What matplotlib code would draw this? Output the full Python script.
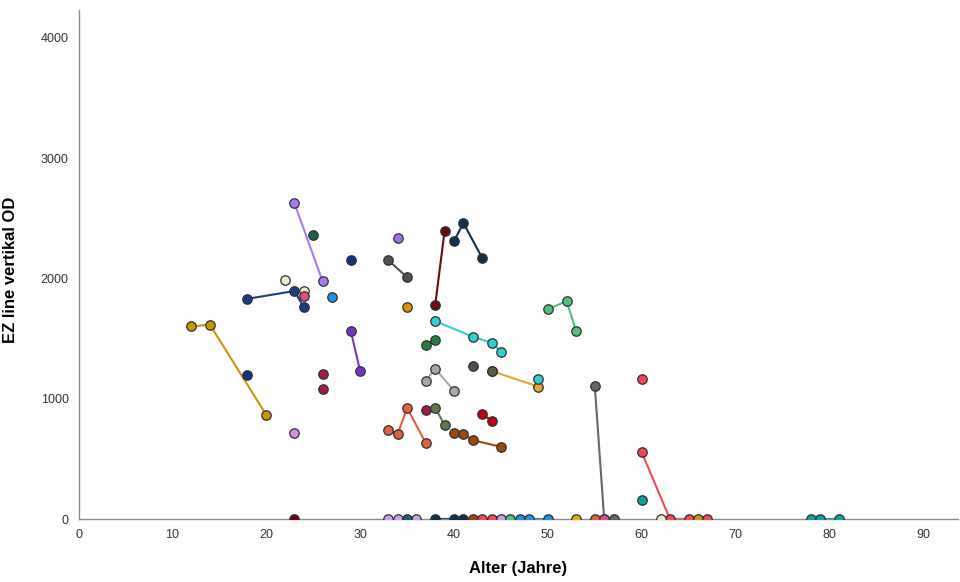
import matplotlib
matplotlib.use("Agg")
import matplotlib.pyplot as plt
import numpy as np

plt.rcParams['font.family'] = ['Liberation Sans', 'DejaVu Sans']

# Subject colours (one per subject)
subject_colors = [
    "#c8960c", "#1a3a8a", "#f0ead0", "#e05080", "#a87af5", "#1a6050", "#10308a",
    "#2090e0", "#7535c8", "#a01850", "#a01850", "#10308a", "#d090e8", "#700010",
    "#a070f0", "#505050", "#e0900a", "#6a0a10", "#10304e", "#30d0d0", "#208040",
    "#505050", "#f0a030", "#506040", "#30d0d0", "#a8a8a8", "#e06040", "#a01850",
    "#607850", "#c00010", "#a04808", "#50c080", "#606868", "#f04858", "#f04858",
    "#10a0a0", "#c8a0e8", "#206060", "#10304e", "#10304e", "#b04010", "#f04858",
    "#c8a0e8", "#50c080", "#2090e0", "#e0b010", "#e06040", "#e05090", "#606868",
    "#f0ead0", "#d09010", "#f04858", "#10a0a0",
]

# Long-format data: subject index, age (years), EZ line value
subject = [
    0, 0, 0,
    1, 1, 1,
    2, 2,
    3,
    4, 4,
    5,
    6,
    7,
    8, 8,
    9,
    10,
    11,
    12,
    13,
    14,
    15, 15,
    16,
    17, 17,
    18, 18, 18,
    19, 19, 19, 19,
    20, 20,
    21,
    22, 22,
    23,
    24,
    25, 25, 25,
    26, 26, 26, 26,
    27,
    28, 28,
    29, 29,
    30, 30, 30, 30,
    31, 31, 31,
    32, 32,
    33, 33, 33,
    34,
    35,
    36, 36, 36,
    37,
    38, 38,
    39,
    40,
    41, 41,
    42,
    43,
    44, 44, 44,
    45,
    46,
    47,
    48,
    49,
    50,
    51,
    52, 52, 52,
]
age = [
    12, 14, 20,
    18, 23, 24,
    22, 24,
    24,
    23, 26,
    25,
    29,
    27,
    29, 30,
    26,
    26,
    18,
    23,
    23,
    34,
    33, 35,
    35,
    38, 39,
    40, 41, 43,
    38, 42, 44, 45,
    37, 38,
    42,
    44, 49,
    44,
    49,
    37, 38, 40,
    33, 34, 35, 37,
    37,
    38, 39,
    43, 44,
    40, 41, 42, 45,
    50, 52, 53,
    55, 56,
    60, 63, 65,
    60,
    60,
    33, 34, 36,
    35,
    38, 40,
    41,
    42,
    43, 44,
    45,
    46,
    47, 48, 50,
    53,
    55,
    56,
    57,
    62,
    66,
    67,
    78, 79, 81,
]
ez_value = [
    1600, 1615, 865,
    1830, 1895, 1760,
    1985, 1895,
    1855,
    2625, 1975,
    2360,
    2150,
    1845,
    1565, 1230,
    1205,
    1080,
    1195,
    715,
    0,
    2335,
    2150, 2010,
    1765,
    1780, 2395,
    2310, 2460, 2170,
    1645, 1515, 1465, 1390,
    1445, 1490,
    1270,
    1230, 1100,
    1230,
    1165,
    1150, 1250, 1065,
    740, 705, 925, 630,
    905,
    925, 780,
    875, 815,
    715, 705, 655, 600,
    1745, 1810, 1565,
    1105, 0,
    555, 0, 0,
    1165,
    158,
    0, 0, 0,
    0,
    0, 0,
    0,
    0,
    0, 0,
    0,
    0,
    0, 0, 0,
    0,
    0,
    0,
    0,
    0,
    0,
    0,
    0, 0, 0,
]

x_ticks = [0, 10, 20, 30, 40, 50, 60, 70, 80, 90]
y_ticks = [0, 1000, 2000, 3000, 4000]

fig = plt.figure(figsize=(9.6, 5.82), dpi=100)
ax = fig.add_axes([0.0818, 0.1082, 0.9162, 0.8746])

subject_arr = np.array(subject)
age_arr = np.array(age, dtype=float)
val_arr = np.array(ez_value, dtype=float)

for s, col in enumerate(subject_colors):
    m = subject_arr == s
    xs = age_arr[m]
    ys = val_arr[m]
    order = np.argsort(xs)
    xs, ys = xs[order], ys[order]
    if len(xs) > 1:
        ax.plot(xs, ys, color=col, lw=1.5, zorder=2)
    ax.plot(xs, ys, linestyle='none', marker='o', markersize=6.8,
            markerfacecolor=col, markeredgecolor='#303030', markeredgewidth=0.9,
            zorder=3)

ax.set_xlim(0, 93.7)
ax.set_ylim(0, 4230)
ax.set_xticks(x_ticks)
ax.set_yticks(y_ticks)
ax.tick_params(axis='both', length=0, labelsize=9, labelcolor='#333333')
ax.tick_params(axis='x', pad=7)
ax.tick_params(axis='y', pad=7)

for sp in ['top', 'right']:
    ax.spines[sp].set_visible(False)
for sp in ['left', 'bottom']:
    ax.spines[sp].set_color('#8c8c8c')
    ax.spines[sp].set_linewidth(1.0)

ax.set_xlabel('Alter (Jahre)', fontsize=12, fontweight='bold')
ax.set_ylabel('EZ line vertikal OD', fontsize=12, fontweight='bold')
ax.xaxis.set_label_coords(0.5, -0.082)
ax.yaxis.set_label_coords(-0.069, 0.49)

fig.savefig('out.png', dpi=100)
